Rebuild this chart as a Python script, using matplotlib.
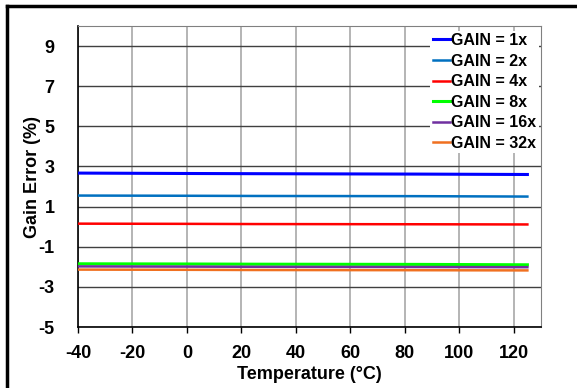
import matplotlib
matplotlib.use("Agg")
import matplotlib.pyplot as plt
from matplotlib.lines import Line2D

plt.rcParams['font.family'] = ['Liberation Sans', 'DejaVu Sans']
plt.rcParams['font.weight'] = 'bold'
plt.rcParams['axes.unicode_minus'] = False

# データ
temps = [-40, 0, 25, 85, 125]
gain_1x = [2.67, 2.65, 2.64, 2.62, 2.60]
gain_2x = [1.55, 1.54, 1.53, 1.52, 1.50]
gain_4x = [0.15, 0.14, 0.13, 0.12, 0.11]
gain_8x = [-1.85, -1.86, -1.87, -1.88, -1.90]
gain_16x = [-1.98, -1.99, -2.00, -2.01, -2.02]
gain_32x = [-2.14, -2.15, -2.16, -2.17, -2.18]

labels = ['GAIN = 1x', 'GAIN = 2x', 'GAIN = 4x', 'GAIN = 8x', 'GAIN = 16x', 'GAIN = 32x']
colors = ['#0000FF', '#0070C0', '#FF0000', '#00FF00', '#7030A0', '#F07020']
widths = [2.2, 1.8, 1.8, 2.2, 1.8, 1.8]

x_ticks = [-40, -20, 0, 20, 40, 60, 80, 100, 120]
y_ticks = [-5, -3, -1, 1, 3, 5, 7, 9]

fig = plt.figure(figsize=(5.77, 3.88), dpi=100)
ax = fig.add_axes([78 / 577, 1 - 327 / 388, (541 - 78) / 577, (327 - 26) / 388])

series = [gain_1x, gain_2x, gain_4x, gain_8x, gain_16x, gain_32x]
for vals, lab, c, w in zip(series, labels, colors, widths):
    ax.plot(temps, vals, color=c, lw=w, label=lab, zorder=3)

ax.set_xlim(-40, 130)
ax.set_ylim(-5, 10)
ax.set_xticks(x_ticks)
ax.set_yticks(y_ticks)
ax.tick_params(axis='x', direction='out', length=4, width=1, labelsize=13, pad=9)
ax.tick_params(axis='y', length=0, labelsize=13, pad=17)
for t in ax.get_xticklabels() + ax.get_yticklabels():
    t.set_fontweight('bold')

# グリッド
ax.xaxis.grid(True, color='#A8A8A8', lw=1.2, zorder=0)
ax.yaxis.grid(True, color='#404040', lw=1.0, zorder=0)
ax.set_axisbelow(True)

ax.spines['left'].set_color('black')
ax.spines['bottom'].set_color('black')
ax.spines['left'].set_linewidth(1.2)
ax.spines['bottom'].set_linewidth(1.2)
ax.spines['top'].set_color('#808080')
ax.spines['right'].set_color('#808080')

ax.set_xlabel('Temperature (°C)', fontsize=13, fontweight='bold', labelpad=3)
ax.set_ylabel('Gain Error (%)', fontsize=13, fontweight='bold', labelpad=-2)

leg = ax.legend(loc='upper right', bbox_to_anchor=(0.995, 0.985), fontsize=11.5,
                frameon=True, fancybox=False, edgecolor='none', facecolor='white',
                framealpha=1, handlelength=1.1, handletextpad=0.05,
                labelspacing=0.35, borderpad=0.15, borderaxespad=0)
for t in leg.get_texts():
    t.set_fontweight('bold')

# 外枠
fig.add_artist(Line2D([7 / 577, 7 / 577], [0, 1 - 6 / 388], color='black', lw=2.5,
                      transform=fig.transFigure))
fig.add_artist(Line2D([7 / 577, 1], [1 - 6 / 388, 1 - 6 / 388], color='black', lw=2.5,
                      transform=fig.transFigure))

fig.savefig('out.png', dpi=100)
